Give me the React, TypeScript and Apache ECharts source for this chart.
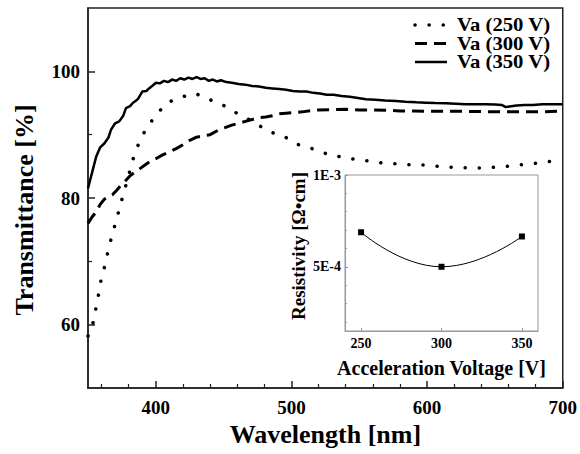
import React, { useEffect, useRef } from "react";
import * as echarts from "echarts";

const FONT = '"Liberation Serif", "Times New Roman", serif';

const seriesNames = ["Va (250 V)", "Va (300 V)", "Va (350 V)"];

const wl250 = [350, 354, 356, 358, 360, 363, 365, 368, 371, 374, 377, 379, 383, 387, 392, 399, 408, 418, 429, 440, 451, 462, 473, 483, 494, 504, 515, 527, 536, 547, 558, 568, 579, 590, 601, 612, 623, 634, 644, 655, 666, 677, 688, 700];
const t250 = [58.2, 60.5, 62.8, 65.0, 67.5, 69.7, 71.9, 74.3, 76.6, 79.0, 81.3, 82.8, 86.0, 88.4, 90.6, 92.8, 95.0, 95.9, 96.5, 95.5, 94.5, 93.1, 91.9, 90.5, 89.8, 88.5, 87.8, 86.9, 86.5, 86.1, 85.8, 85.5, 85.4, 85.2, 85.2, 84.9, 84.85, 84.7, 84.8, 84.9, 85.2, 85.4, 85.7, 86.0];

const wl300 = [350, 353, 356, 359, 362, 365, 368, 371, 375, 378, 381, 384, 388, 392, 396, 400, 405, 410, 415, 420, 425, 430, 435, 440, 446, 451, 456, 461, 466, 471, 476, 481, 486, 491, 496, 501, 508, 515, 520, 530, 540, 550, 560, 570, 580, 590, 600, 620, 640, 660, 680, 700];
const t300 = [76.0, 77.0, 77.8, 79.0, 79.8, 80.2, 80.5, 81.2, 82.2, 82.8, 83.5, 84.0, 84.6, 85.2, 85.8, 86.2, 86.8, 87.3, 87.8, 88.4, 89.1, 89.6, 89.8, 90.0, 90.7, 91.1, 91.5, 91.8, 92.1, 92.4, 92.7, 92.8, 93.0, 93.3, 93.4, 93.5, 93.6, 93.8, 93.9, 93.95, 94.0, 93.9, 93.9, 93.85, 93.75, 93.75, 93.7, 93.7, 93.65, 93.6, 93.6, 93.7];

const wl350 = [350, 353, 356, 359, 362, 365, 367, 370, 373, 376, 378, 381, 383, 385, 387, 390, 393, 395, 398, 400, 403, 406, 409, 412, 415, 418, 421, 424, 427, 430, 433, 436, 439, 442, 445, 448, 452, 456, 461, 466, 471, 476, 481, 486, 491, 496, 501, 506, 511, 516, 521, 526, 531, 537, 543, 549, 555, 562, 569, 577, 584, 592, 599, 606, 614, 621, 628, 636, 643, 650, 655, 658, 662, 666, 672, 678, 685, 692, 700];
const t350 = [81.5, 84.0, 86.5, 88.0, 88.6, 89.5, 90.8, 91.8, 92.1, 93.0, 94.2, 94.5, 95.0, 95.3, 95.7, 96.8, 96.9, 97.3, 97.8, 98.2, 98.1, 98.5, 98.3, 98.7, 98.5, 98.9, 98.7, 99.0, 98.8, 99.1, 98.8, 98.9, 98.5, 98.7, 98.4, 98.6, 98.3, 98.2, 98.0, 97.9, 97.7, 97.6, 97.4, 97.3, 97.2, 97.1, 96.9, 96.8, 96.8, 96.6, 96.5, 96.3, 96.3, 96.1, 96.0, 95.8, 95.6, 95.5, 95.4, 95.3, 95.2, 95.1, 95.05, 95.0, 94.95, 94.9, 94.8, 94.8, 94.8, 94.75, 94.7, 94.35, 94.5, 94.6, 94.7, 94.7, 94.8, 94.8, 94.8];

const xMajorTicks = [400, 500, 600, 700];
const xMinorTicks = [360, 380, 420, 440, 460, 480, 520, 540, 560, 580, 620, 640, 660, 680];
const yMajorTicks = [60, 80, 100];
const yMinorTicks = [70, 90];

const voltages = [250, 300, 350];
const resistivity = [6.88e-4, 5.0e-4, 6.65e-4];
const insetXTicks = [250, 300, 350];
const insetYTicks = [5e-4, 1e-3];
const insetYMinor = [2e-4, 3e-4, 4e-4, 6e-4, 7e-4, 8e-4, 9e-4];
const insetYLabels: Record<string, string> = { "0.0005": "5E-4", "0.001": "1E-3" };

const zip = (a: number[], b: number[]) => a.map((v, i) => [v, b[i]]);

const lineWidths = [3.5, 3, 2.5];
const lineDashes: (number[] | null)[] = [[0.1, 14], [12, 7], null];

export default function App() {
  const ref = useRef<HTMLDivElement>(null);
  useEffect(() => {
    if (!ref.current) return;
    const chart = echarts.init(ref.current, undefined, { renderer: "svg" });
    const axisColor = "#222";
    const insetColor = "#999";
    const boldText = { fontFamily: FONT, fontWeight: "bold" as const, color: "#000" };

    // hand-drawn legend (line samples + labels)
    const legendGraphics: any[] = [];
    seriesNames.forEach((name, i) => {
      const cy = 25 + 18.5 * i;
      legendGraphics.push({
        type: "line",
        silent: true,
        shape: { x1: 415, y1: cy, x2: 447, y2: cy },
        style: {
          stroke: "#000",
          lineWidth: lineWidths[i],
          lineDash: lineDashes[i] ?? undefined,
          lineCap: i === 0 ? "round" : "butt",
        },
      });
      legendGraphics.push({
        type: "text",
        silent: true,
        x: 457,
        y: cy,
        scaleX: 1.15,
        style: {
          text: name,
          fontFamily: FONT,
          fontWeight: "bold",
          fontSize: 18,
          lineHeight: 16,
          fill: "#000",
          align: "left",
          verticalAlign: "middle",
        },
      });
    });

    chart.setOption({
      animation: false,
      backgroundColor: "#fff",
      grid: [
        { left: 88, top: 8, width: 476, height: 380, show: true, borderColor: axisColor, borderWidth: 1.5, backgroundColor: "transparent" },
        { left: 345, top: 175, width: 193, height: 156, show: true, borderColor: insetColor, borderWidth: 1, backgroundColor: "#fff" },
      ],
      graphic: legendGraphics,
      xAxis: [
        {
          gridIndex: 0, type: "value", min: 350, max: 700,
          axisLine: { show: true, lineStyle: { color: axisColor, width: 1.5 } },
          axisTick: { show: true, inside: true, length: 7, customValues: xMajorTicks, lineStyle: { color: axisColor, width: 1.5 } },
          axisLabel: { customValues: xMajorTicks, ...boldText, fontSize: 19, margin: 10 },
          splitLine: { show: false },
          name: "Wavelength [nm]", nameLocation: "middle", nameGap: 28,
          nameTextStyle: { ...boldText, fontSize: 26, lineHeight: 26 },
        },
        {
          gridIndex: 0, type: "value", min: 350, max: 700, position: "bottom",
          axisLine: { show: false },
          axisTick: { show: true, inside: true, length: 4, customValues: xMinorTicks, lineStyle: { color: axisColor, width: 1.2 } },
          axisLabel: { show: false },
          splitLine: { show: false },
        },
        {
          gridIndex: 1, type: "value", min: 240, max: 360,
          axisLine: { show: true, lineStyle: { color: insetColor, width: 1 } },
          axisTick: { show: true, inside: true, length: 3, customValues: insetXTicks, lineStyle: { color: insetColor } },
          axisLabel: { customValues: insetXTicks, ...boldText, fontSize: 14, margin: 5 },
          splitLine: { show: false },
          name: "Acceleration Voltage [V]", nameLocation: "middle", nameGap: 27,
          nameTextStyle: { ...boldText, fontSize: 20, lineHeight: 20 },
        },
      ],
      yAxis: [
        {
          gridIndex: 0, type: "value", min: 50, max: 110,
          axisLine: { show: true, lineStyle: { color: axisColor, width: 1.5 } },
          axisTick: { show: true, inside: true, length: 7, customValues: yMajorTicks, lineStyle: { color: axisColor, width: 1.5 } },
          axisLabel: { customValues: yMajorTicks, ...boldText, fontSize: 19, margin: 8 },
          splitLine: { show: false },
          name: "Transmittance [%]", nameLocation: "middle", nameGap: 51,
          nameTextStyle: { ...boldText, fontSize: 26, lineHeight: 26, padding: [0, 24, 0, 0] },
        },
        {
          gridIndex: 0, type: "value", min: 50, max: 110, position: "left",
          axisLine: { show: false },
          axisTick: { show: true, inside: true, length: 4, customValues: yMinorTicks, lineStyle: { color: axisColor, width: 1.2 } },
          axisLabel: { show: false },
          splitLine: { show: false },
        },
        {
          gridIndex: 1, type: "value", min: 1.5e-4, max: 1e-3,
          axisLine: { show: true, lineStyle: { color: insetColor, width: 1 } },
          axisTick: { show: true, inside: true, length: 3, customValues: insetYTicks, lineStyle: { color: insetColor } },
          axisLabel: {
            customValues: insetYTicks, ...boldText, fontSize: 14, margin: 4,
            formatter: (v: number) => insetYLabels[String(v)] ?? String(v),
          },
          splitLine: { show: false },
          name: "Resistivity [Ω•cm]", nameLocation: "middle", nameGap: 37,
          nameTextStyle: { ...boldText, fontSize: 19, lineHeight: 19, padding: [0, 0, 0, 14] },
        },
        {
          gridIndex: 1, type: "value", min: 1.5e-4, max: 1e-3, position: "left",
          axisLine: { show: false },
          axisTick: { show: true, inside: true, length: 2, customValues: insetYMinor, lineStyle: { color: insetColor } },
          axisLabel: { show: false },
          splitLine: { show: false },
        },
      ],
      series: [
        {
          name: seriesNames[0], type: "line", xAxisIndex: 0, yAxisIndex: 0, silent: true,
          data: zip(wl250, t250), symbol: "none", showSymbol: false,
          itemStyle: { color: "#000" },
          lineStyle: { color: "#000", width: lineWidths[0], type: lineDashes[0], cap: "round" },
        },
        {
          name: seriesNames[1], type: "line", xAxisIndex: 0, yAxisIndex: 0, silent: true,
          data: zip(wl300, t300), symbol: "none", showSymbol: false,
          itemStyle: { color: "#000" },
          lineStyle: { color: "#000", width: lineWidths[1], type: lineDashes[1] },
        },
        {
          name: seriesNames[2], type: "line", xAxisIndex: 0, yAxisIndex: 0, silent: true,
          data: zip(wl350, t350), symbol: "none", showSymbol: false,
          itemStyle: { color: "#000" },
          lineStyle: { color: "#000", width: lineWidths[2] },
        },
        {
          name: "Resistivity", type: "line", xAxisIndex: 2, yAxisIndex: 2, silent: true,
          data: zip(voltages, resistivity), smooth: true,
          symbol: "rect", symbolSize: 6,
          itemStyle: { color: "#000" },
          lineStyle: { color: "#000", width: 1 },
        },
      ],
    });
    return () => chart.dispose();
  }, []);
  return <div ref={ref} style={{ position: "absolute", left: 0, top: 0, width: 580, height: 454 }} />;
}
